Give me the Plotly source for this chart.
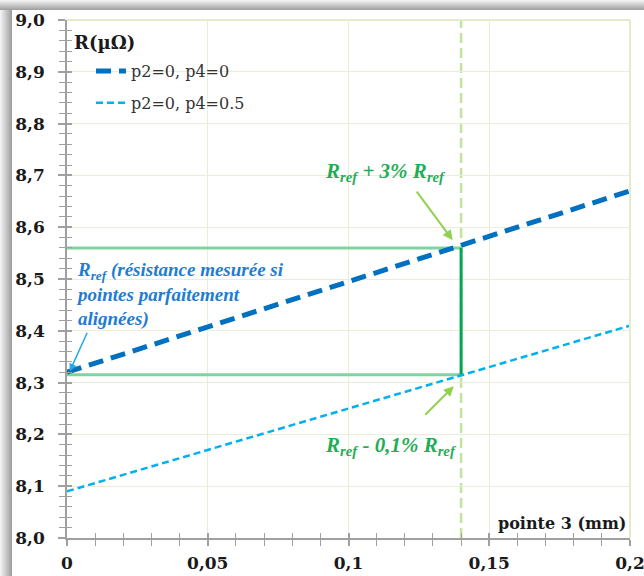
import plotly.graph_objects as go

# ---- data ----
x_pos = [0.0, 0.2]                 # pointe 3 (mm)
r_p4_0 = [8.32, 8.67]              # p2=0, p4=0
r_p4_05 = [8.09, 8.41]             # p2=0, p4=0.5
x_mark = 0.14
r_high = 8.56
r_low = 8.315
x_tickvals = [0, 0.05, 0.1, 0.15, 0.2]
x_ticktext = ["0", "0,05", "0,1", "0,15", "0,2"]
y_tickvals = [8.0, 8.1, 8.2, 8.3, 8.4, 8.5, 8.6, 8.7, 8.8, 8.9, 9.0]
y_ticktext = ["8,0", "8,1", "8,2", "8,3", "8,4", "8,5", "8,6", "8,7", "8,8", "8,9", "9,0"]

W, H = 644, 576
L, R, T, B = 67, 14, 20, 38
PW, PH = W - L - R, H - T - B


def px(p):
    return (p - L) / PW


def py(p):
    return (H - B - p) / PH


fig = go.Figure()
fig.add_trace(go.Scatter(x=x_pos, y=r_p4_0, mode="lines", name="p2=0, p4=0",
                         legendgroup="a",
                         line=dict(color="#0070c0", width=5, dash="15px,8px")))
fig.add_trace(go.Scatter(x=x_pos, y=r_p4_05, mode="lines", name="p2=0, p4=0.5",
                         legendgroup="b",
                         line=dict(color="#00b0f0", width=2.5, dash="7px,4px")))
# invisible trace for overlay axes (crossing ticks)
fig.add_trace(go.Scatter(x=x_pos, y=r_p4_0, xaxis="x2", yaxis="y2", mode="lines",
                         line=dict(width=0), showlegend=False, hoverinfo="skip"))

grid = "#e9efd6"
tickc = "#a0a0a0"
tfont = dict(family="DejaVu Serif", size=17, color="#1a1a1a", weight="bold")

shapes = []
# shadow bands (decoration)
for i in range(10):
    c = int(242 - i * 9)
    col = f"rgb({c},{c},{c})"
    shapes.append(dict(type="rect", xref="paper", yref="paper",
                       x0=px(0), x1=px(W), y0=py(i), y1=py(i + 1),
                       fillcolor=col, line=dict(width=0), layer="above"))
for i in range(12):
    c = int(242 - i * 7.5)
    col = f"rgb({c},{c},{c})"
    shapes.append(dict(type="rect", xref="paper", yref="paper",
                       x0=px(i), x1=px(i + 1), y0=py(10), y1=py(H),
                       fillcolor=col, line=dict(width=0), layer="above"))
# top & right borders
shapes.append(dict(type="line", xref="paper", yref="paper", x0=0, x1=1, y0=1, y1=1,
                   line=dict(color="#e2ecc8", width=2)))
shapes.append(dict(type="line", xref="paper", yref="paper", x0=1, x1=1, y0=0, y1=1,
                   line=dict(color="#e2ecc8", width=2)))
# vertical dashed marker
shapes.append(dict(type="line", xref="x", yref="paper", x0=x_mark, x1=x_mark, y0=0, y1=1,
                   line=dict(color="#c5e3a0", width=2.5, dash="10px,5px"), layer="between"))
# green reference lines
shapes.append(dict(type="line", xref="x", yref="y", x0=x_pos[0], x1=x_mark, y0=r_high, y1=r_high,
                   line=dict(color="#7ed3a0", width=3), layer="between"))
shapes.append(dict(type="line", xref="x", yref="y", x0=x_pos[0], x1=x_mark, y0=r_low, y1=r_low,
                   line=dict(color="#7ed3a0", width=3), layer="between"))
shapes.append(dict(type="line", xref="x", yref="y", x0=x_mark, x1=x_mark, y0=r_low, y1=r_high,
                   line=dict(color="#00a651", width=3), layer="between"))

green = "#1fae55"
blue = "#1f7ccf"
afont_b = dict(family="Liberation Serif", size=19, weight="bold", style="italic")
afont_g = dict(family="Liberation Serif", size=21, weight="bold", style="italic")

annotations = [
    dict(xref="paper", yref="paper", x=px(72), y=py(42), xanchor="left", yanchor="middle",
         text="R(µΩ)", showarrow=False,
         font=dict(family="DejaVu Serif", size=18, weight="bold", color="#1a1a1a")),
    dict(xref="paper", yref="paper", x=px(628), y=py(523), xanchor="right", yanchor="middle",
         text="pointe 3 (mm)", showarrow=False,
         font=dict(family="DejaVu Serif", size=16, weight="bold", color="#1a1a1a")),
    dict(xref="paper", yref="paper", x=px(74), y=py(257), xanchor="left", yanchor="top",
         align="left", showarrow=False,
         text="R<sub>ref</sub> (résistance mesurée si<br>pointes parfaitement<br>alignées)",
         font=dict(afont_b, color=blue)),
    dict(xref="x", yref="y", x=0.001, y=8.322, ax=18, ay=-40, text="", showarrow=True,
         arrowhead=2, arrowsize=1, arrowwidth=1.5, arrowcolor="#22aaee"),
    dict(xref="paper", yref="paper", x=px(385), y=py(172), xanchor="center", yanchor="middle",
         text="R<sub>ref</sub> + 3% R<sub>ref</sub>", showarrow=False,
         font=dict(afont_g, color=green)),
    dict(xref="x", yref="y", x=0.137, y=8.575, ax=-37, ay=-50, text="", showarrow=True,
         arrowhead=2, arrowsize=1, arrowwidth=2, arrowcolor="#92d050"),
    dict(xref="paper", yref="paper", x=px(391), y=py(446), xanchor="center", yanchor="middle",
         text="R<sub>ref</sub> - 0,1% R<sub>ref</sub>", showarrow=False,
         font=dict(afont_g, color=green)),
    dict(xref="x", yref="y", x=0.1374, y=8.293, ax=-30, ay=30, text="", showarrow=True,
         arrowhead=2, arrowsize=1, arrowwidth=2, arrowcolor="#92d050"),
]

fig.update_layout(
    width=W, height=H,
    margin=dict(l=L, r=R, t=T, b=B, autoexpand=False),
    paper_bgcolor="white", plot_bgcolor="white",
    showlegend=True,
    legend=dict(x=px(91), y=py(54), xanchor="left", yanchor="top",
                bgcolor="rgba(0,0,0,0)", borderwidth=0, tracegroupgap=8,
                itemwidth=30,
                font=dict(family="DejaVu Serif", size=16, color="#333333")),
    xaxis=dict(range=[0, 0.2], tickvals=x_tickvals, ticktext=x_ticktext,
               showgrid=True, gridcolor=grid, gridwidth=1, zeroline=False,
               showline=True, linecolor=tickc, linewidth=1.5,
               ticks="outside", ticklen=6, tickcolor=tickc, tickwidth=1.5,
               minor=dict(dtick=0.01, ticks="outside", ticklen=6, tickcolor=tickc, tickwidth=1.2,
                          showgrid=False),
               tickfont=tfont, ticklabelstandoff=3, ticklabeloverflow="allow"),
    yaxis=dict(range=[8.0, 9.0], tickvals=y_tickvals, ticktext=y_ticktext,
               showgrid=True, gridcolor=grid, gridwidth=1, zeroline=False,
               showline=True, linecolor=tickc, linewidth=1.5,
               ticks="outside", ticklen=7, tickcolor=tickc, tickwidth=1.5,
               minor=dict(dtick=0.02, ticks="outside", ticklen=6, tickcolor=tickc, tickwidth=1.2,
                          showgrid=False),
               tickfont=tfont, ticklabelstandoff=10, ticklabeloverflow="allow"),
    xaxis2=dict(overlaying="x", matches="x", anchor="y", showgrid=False, zeroline=False,
                showticklabels=False, tickvals=x_tickvals, ticks="inside", ticklen=5,
                tickcolor=tickc, tickwidth=1.5,
                minor=dict(dtick=0.01, ticks="inside", ticklen=5, tickcolor=tickc, tickwidth=1.2)),
    yaxis2=dict(overlaying="y", matches="y", anchor="x", side="left", showgrid=False,
                zeroline=False, showticklabels=False, tickvals=y_tickvals, ticks="inside",
                ticklen=5, tickcolor=tickc, tickwidth=1.5,
                minor=dict(dtick=0.02, ticks="inside", ticklen=5, tickcolor=tickc, tickwidth=1.2)),
    shapes=shapes,
    annotations=annotations,
)

fig.write_html("out.html")
